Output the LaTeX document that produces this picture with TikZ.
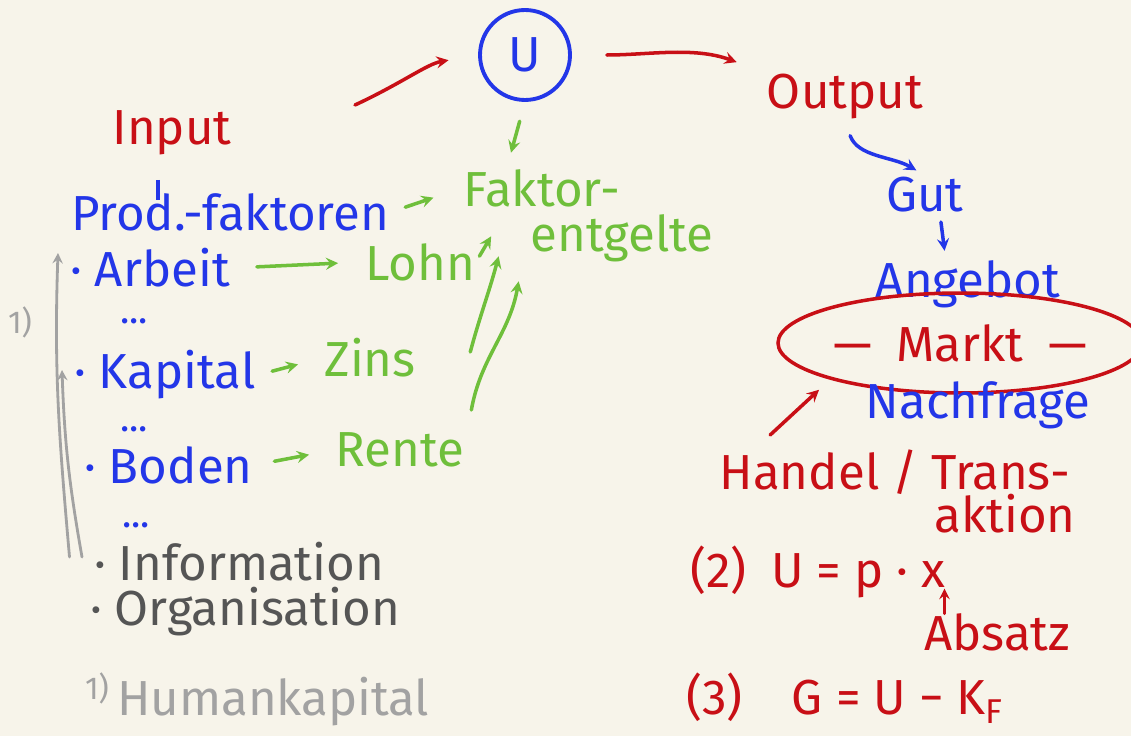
\documentclass[tikz,border=0pt]{standalone}
\usepackage{fontspec}
\setmainfont{Fira Sans}
\usetikzlibrary{shapes.geometric,arrows.meta}
\definecolor{papier}{HTML}{F7F4EA}
\definecolor{rot}{HTML}{C80F16}
\definecolor{blau}{HTML}{2336E8}
\definecolor{gruen}{HTML}{6FBF3B}
\definecolor{dunkel}{HTML}{555555}
\definecolor{hell}{HTML}{A2A2A2}
\begin{document}
\begin{tikzpicture}[x=0.02cm,y=-0.02cm,
  txt/.style={font=\fontsize{28}{30}\selectfont,inner sep=1pt},
  rottxt/.style={txt,text=rot},
  blautxt/.style={txt,text=blau},
  gruentxt/.style={txt,text=gruen},
  grautxt/.style={txt,text=dunkel},
  punkte/.style={text=blau,font=\fontsize{22}{22}\selectfont,inner sep=0pt,anchor=west},
  pfeil/.style={line width=2pt,line cap=round,-stealth}]
\useasboundingbox[fill=papier] (0,0) rectangle (1131,736);
% Unternehmen
\node[circle,draw=blau,line width=2.2pt,minimum size=1.8cm,blautxt] (u) at (525,55) {U};
\node[rottxt] (input) at (172,133) {Input};
\node[rottxt] (output) at (845,97) {Output};
\coordinate (in-a) at (355,105);
\draw[pfeil,rot,shorten >=0.6cm] (in-a) to[out=25,in=190] (u.west);
\draw[pfeil,rot,shorten <=0.7cm,shorten >=0.6cm] (u.east) to[out=0,in=160] (output.north west);
% Produktionsfaktoren
\node[blautxt] (prod) at (230,212) {Prod.-faktoren};
\node[gruentxt] (faktor) at (542,188) {Faktor-};
\node[gruentxt] (entgelte) at (622,238) {entgelte};
\draw[line width=2pt,blau] ([yshift=-0.45cm]input.south west) ++(0.95cm,0) -- ++(0,-0.4cm);
\draw[pfeil,gruen,shorten <=0.3cm,shorten >=0.6cm] (prod.east) -- (faktor.west);
\draw[pfeil,gruen,shorten <=0.4cm,shorten >=0.3cm] (u.south) -- ([xshift=-0.7cm]faktor.north);
\node[blautxt,anchor=west] (arbeit) at (68,268) {· Arbeit};
\node[gruentxt] (lohn) at (420,262) {Lohn};
\node[punkte] (dots1) at (120,321) {...};
\node[blautxt,anchor=west] (kapital) at (72,375) {· Kapital};
\node[gruentxt] (zins) at (370,358) {Zins};
\node[punkte] (dots2) at (120,429) {...};
\node[blautxt,anchor=west] (boden) at (82,465) {· Boden};
\node[gruentxt] (rente) at (400,450) {Rente};
\node[punkte] (dots3) at (122,525) {...};
\node[grautxt,anchor=west] (information) at (92,562) {· Information};
\node[grautxt,anchor=west] (organisation) at (88,612) {· Organisation};
\draw[pfeil,gruen,shorten <=0.5cm,shorten >=0.5cm] (arbeit.east) -- (lohn.west);
\draw[pfeil,gruen,shorten <=0.3cm,shorten >=0.5cm] (kapital.east) -- (zins.west);
\draw[pfeil,gruen,shorten <=0.4cm,shorten >=0.5cm] (boden.east) -- (rente.west);
\draw[pfeil,gruen] ([xshift=0.05cm,yshift=-0.3cm]lohn.north east) -- ([xshift=-0.75cm,yshift=0.55cm]entgelte.south west);
\draw[pfeil,gruen] ([xshift=1.05cm,yshift=0.12cm]zins.east) to[out=75,in=-105] ([xshift=-0.6cm,yshift=0.15cm]entgelte.south west);
\draw[pfeil,gruen] ([xshift=0.1cm,yshift=0.8cm]rente.east) to[out=80,in=-100] ([xshift=-0.2cm,yshift=-0.35cm]entgelte.south west);
% Humankapital
\node[txt,text=hell,font=\fontsize{18}{20}\selectfont] (fn-a) at (20,322) {1)};
\node[txt,text=hell,font=\fontsize{18}{20}\selectfont] (fn-b) at (97,688) {1)};
\node[txt,text=hell,anchor=west] (human) at (115,702) {Humankapital};
\draw[pfeil,hell,line width=1.6pt] ([xshift=-0.45cm,yshift=0.1cm]information.west) to[out=95,in=-92] ([xshift=-0.2cm,yshift=0.3cm]arbeit.west);
\draw[pfeil,hell,line width=1.6pt] ([xshift=-0.2cm,yshift=0.1cm]information.west) to[out=100,in=-88] ([xshift=-0.2cm,yshift=0.1cm]kapital.west);
% Markt
\node[blautxt] (gut) at (925,195) {Gut};
\node[blautxt] (angebot) at (968,284) {Angebot};
\node[ellipse,draw=rot,line width=2pt,minimum width=6.8cm,minimum height=2cm,rottxt] (markt) at (960,343) {—\enspace Markt\enspace —};
\node[blautxt] (nachfrage) at (978,405) {Nachfrage};
\node[rottxt] (handel) at (895,472) {Handel / Trans-};
\node[rottxt] (aktion) at (1005,514) {aktion};
\draw[pfeil,blau,shorten <=0.3cm,shorten >=0.2cm] (output.south) to[out=-70,in=150] (gut.north);
\draw[pfeil,blau,shorten <=0.15cm,shorten >=0.15cm] ([xshift=0.3cm]gut.south) -- ([xshift=-0.45cm]angebot.north);
\draw[pfeil,rot,shorten >=0.3cm] ([xshift=1.05cm,yshift=0.25cm]handel.north west) -- (markt.south west);
% Formeln
\node[rottxt] (zwei) at (818,572) {(2)\enspace U = p · x};
\node[rottxt] (absatz) at (997,632) {Absatz};
\node[rottxt] (drei) at (845,698) {(3)\quad G = U − K\textsubscript{F}};
\draw[pfeil,rot,line width=1.6pt] ([xshift=-1.05cm,yshift=-0.05cm]absatz.north) -- ([xshift=-1.05cm,yshift=0.45cm]absatz.north);
\end{tikzpicture}
\end{document}
